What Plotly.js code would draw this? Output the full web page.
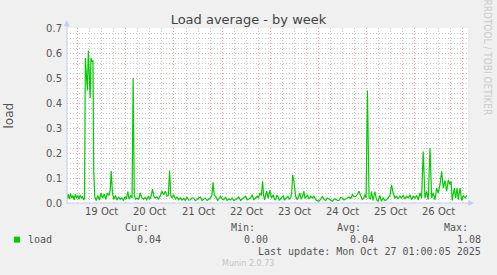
<!DOCTYPE html>
<html>
<head>
<meta charset="utf-8">
<script src="https://cdn.plot.ly/plotly-3.0.1.min.js"></script>
<style>html,body{margin:0;padding:0;background:#f0f0f0;}#chart{width:497px;height:275px;}</style>
</head>
<body>
<div id="chart"></div>
<script>
// Hours since 19 Oct 2025 00:00
const hours = [-5.3,-4.8,-4.2,-3.6,-3.0,-2.4,-1.8,-1.2,-0.6,0.0,0.6,1.2,1.8,2.4,3.0,3.4,3.8,4.3,4.8,5.3,5.8,6.2,6.6,7.1,7.6,8.0,8.5,9.2,10.0,10.8,11.6,12.4,13.2,14.0,14.8,15.6,16.2,16.7,17.3,18.0,18.8,19.6,20.4,21.2,22.0,22.8,23.6,24.2,25.0,25.6,26.4,27.1,27.65,28.2,28.9,29.6,30.4,31.2,32.0,32.8,33.6,34.4,35.2,36.0,36.7,37.3,38.0,38.7,39.5,40.3,41.2,42.0,42.8,43.7,44.5,45.2,45.8,46.4,47.0,47.8,48.7,49.5,50.3,51.2,52.0,52.8,53.6,54.5,55.3,56.2,57.0,57.8,58.6,59.5,60.3,61.2,62.0,62.8,63.6,64.5,65.3,66.2,66.9,67.5,68.1,68.7,69.8,70.5,71.2,72.0,72.8,73.7,74.5,75.3,76.2,77.0,77.8,78.7,79.5,80.3,81.2,82.0,82.8,83.7,84.5,85.3,86.2,87.0,87.8,88.7,89.5,90.2,90.8,91.6,92.2,92.7,93.2,94.2,95.0,95.8,96.7,97.5,98.1,98.7,99.3,99.8,100.5,101.2,101.9,102.5,103.1,103.7,104.3,104.8,105.5,106.2,106.7,107.2,107.8,108.3,108.7,109.5,110.1,110.8,111.4,112.0,112.8,113.3,113.7,114.5,115.3,116.2,117.0,117.8,118.7,119.5,120.3,121.2,122.0,122.8,123.7,124.5,125.3,126.2,127.0,127.8,128.7,129.5,130.3,131.2,132.0,132.8,133.7,134.5,135.3,136.2,137.0,137.8,138.7,139.5,140.3,141.2,142.0,142.6,143.2,143.8,144.5,145.3,146.0,146.5,147.3,148.2,149.0,149.8,150.7,151.5,152.3,153.2,154.0,154.8,155.7,156.5,157.3,158.2,159.0,159.8,160.7,161.5,162.3,163.2,164.0,164.8,165.7,166.5,167.3,168.2,169.0,169.8,170.7,171.5,172.3,173.2,174.0,174.8,175.7,176.5,177.3,178.2,179.0,179.8,180.7,181.5,182.3,183.2,184.0,184.8,185.7,186.2,186.8,187.8,188.5,189.2,189.8,190.7,191.5,192.3,193.2,194.0];
const load = [0.02,0.035,0.015,0.038,0.02,0.03,0.012,0.035,0.02,0.03,0.015,0.032,0.02,0.025,0.012,0.02,0.58,0.52,0.45,0.61,0.5,0.42,0.58,0.565,0.57,0.12,0.025,0.01,0.03,0.012,0.04,0.02,0.035,0.015,0.04,0.03,0.05,0.128,0.04,0.015,0.03,0.012,0.025,0.015,0.02,0.01,0.025,0.015,0.046,0.015,0.03,0.02,0.5,0.03,0.015,0.02,0.015,0.04,0.02,0.015,0.022,0.013,0.027,0.015,0.03,0.056,0.025,0.02,0.025,0.016,0.03,0.047,0.033,0.047,0.027,0.03,0.13,0.03,0.02,0.033,0.016,0.024,0.013,0.02,0.012,0.018,0.01,0.024,0.012,0.013,0.02,0.02,0.01,0.013,0.02,0.024,0.01,0.016,0.02,0.01,0.016,0.02,0.03,0.083,0.03,0.027,0.01,0.02,0.027,0.016,0.013,0.024,0.01,0.016,0.012,0.02,0.01,0.013,0.018,0.024,0.01,0.016,0.02,0.027,0.012,0.016,0.02,0.033,0.013,0.02,0.027,0.02,0.04,0.03,0.087,0.03,0.013,0.047,0.02,0.05,0.02,0.033,0.015,0.013,0.03,0.027,0.012,0.016,0.025,0.03,0.012,0.016,0.02,0.027,0.015,0.02,0.04,0.113,0.087,0.04,0.027,0.013,0.03,0.04,0.015,0.024,0.047,0.02,0.02,0.033,0.016,0.027,0.02,0.027,0.013,0.01,0.007,0.015,0.027,0.015,0.01,0.02,0.016,0.012,0.007,0.015,0.016,0.01,0.01,0.022,0.02,0.012,0.016,0.02,0.024,0.018,0.033,0.025,0.027,0.035,0.047,0.027,0.013,0.02,0.033,0.02,0.45,0.02,0.015,0.046,0.01,0.046,0.013,0.007,0.03,0.007,0.02,0.01,0.013,0.02,0.03,0.073,0.04,0.02,0.027,0.017,0.027,0.02,0.03,0.017,0.027,0.02,0.033,0.013,0.027,0.02,0.03,0.013,0.04,0.02,0.206,0.02,0.046,0.013,0.22,0.02,0.04,0.013,0.06,0.04,0.073,0.127,0.06,0.09,0.046,0.093,0.073,0.087,0.01,0.06,0.02,0.06,0.013,0.06,0.01,0.03,0.02,0.03];

const dayTickHours = [12,36,60,84,108,132,156,180];
const dayTickLabels = ['19 Oct','20 Oct','21 Oct','22 Oct','23 Oct','24 Oct','25 Oct','26 Oct'];

const legendHeads = ['Cur:','Min:','Avg:','Max:'];
const legendValues = ['0.04','0.00','0.04','1.08'];
const lastUpdate = 'Last update: Mon Oct 27 01:00:05 2025';

// pixel -> paper helpers (plot area: x 67..468, y 28..203.3)
const L = 67, R = 468, T = 28, B = 203.3;
const px = v => (v - L) / (R - L);
const py = v => (B - v) / (B - T);

const green = '#00cc00';
const axisCol = '#c4ccf4';
const txt = '#555555';
const sans = 'DejaVu Sans, sans-serif';
const mono = 'DejaVu Sans Mono, monospace';

const annotations = [];
dayTickHours.forEach((h, i) => annotations.push({
  x: h, xref: 'x', y: py(212), yref: 'paper', text: dayTickLabels[i], showarrow: false,
  xanchor: 'center', yanchor: 'middle', font: {family: sans, size: 10, color: txt}
}));
annotations.push({x: px(9), xref: 'paper', y: py(115.7), yref: 'paper', text: 'load', textangle: -90,
  showarrow: false, xanchor: 'center', yanchor: 'middle', font: {family: sans, size: 12, color: txt}});
annotations.push({x: px(487.5), xref: 'paper', y: py(57), yref: 'paper', text: 'RRDTOOL / TOBI OETIKER', textangle: 90,
  showarrow: false, xanchor: 'center', yanchor: 'middle', font: {family: 'Liberation Sans Narrow, DejaVu Sans Condensed, sans-serif', size: 10, color: '#cccccc'}});
const headRight = [150.5, 257, 363, 470.5];
const valRight = [163, 269.5, 376, 483];
legendHeads.forEach((t, i) => {
  annotations.push({x: px(headRight[i]), xref: 'paper', y: py(227.5), yref: 'paper', text: t, showarrow: false,
    xanchor: 'right', yanchor: 'middle', font: {family: mono, size: 10, color: txt}});
  annotations.push({x: px(valRight[i]), xref: 'paper', y: py(239.5), yref: 'paper', text: legendValues[i], showarrow: false,
    xanchor: 'right', yanchor: 'middle', font: {family: mono, size: 10, color: txt}});
});
annotations.push({x: px(26), xref: 'paper', y: py(239.5), yref: 'paper', text: 'load', showarrow: false,
  xanchor: 'left', yanchor: 'middle', font: {family: mono, size: 10, color: txt}});
annotations.push({x: px(483), xref: 'paper', y: py(252), yref: 'paper', text: lastUpdate, showarrow: false,
  xanchor: 'right', yanchor: 'middle', font: {family: mono, size: 10, color: txt}});
annotations.push({x: px(248), xref: 'paper', y: py(264), yref: 'paper', text: 'Munin 2.0.73', showarrow: false,
  xanchor: 'center', yanchor: 'middle', font: {family: sans, size: 8, color: '#c4c4c4'}});

const shapes = [
  {type: 'line', xref: 'paper', yref: 'paper', x0: px(66.5), x1: px(469), y0: 0, y1: 0, line: {color: axisCol, width: 1}, layer: 'above'},
  {type: 'line', xref: 'paper', yref: 'paper', x0: 0, x1: 0, y0: py(204), y1: py(25), line: {color: axisCol, width: 1}, layer: 'above'},
  {type: 'path', xref: 'paper', yref: 'paper', layer: 'above', fillcolor: axisCol, line: {color: axisCol, width: 0.5},
    path: `M ${px(64.2)} ${py(26)} L ${px(69.2)} ${py(26)} L ${px(66.7)} ${py(20.5)} Z`},
  {type: 'path', xref: 'paper', yref: 'paper', layer: 'above', fillcolor: axisCol, line: {color: axisCol, width: 0.5},
    path: `M ${px(468.5)} ${py(200.8)} L ${px(468.5)} ${py(205.8)} L ${px(473.5)} ${py(203.3)} Z`},
  {type: 'rect', xref: 'paper', yref: 'paper', x0: px(14), x1: px(20), y0: py(243), y1: py(237),
    fillcolor: green, line: {width: 0}}
];

const trace = {
  x: hours, y: load, type: 'scatter', mode: 'lines',
  line: {color: green, width: 1.2}, hoverinfo: 'skip'
};

const layout = {
  width: 497, height: 275,
  margin: {l: 67, r: 29, t: 28, b: 71.7, pad: 0},
  paper_bgcolor: '#f0f0f0', plot_bgcolor: '#ffffff',
  showlegend: false,
  title: {text: 'Load average - by week', xref: 'container', x: 0.5, xanchor: 'center',
    yref: 'container', y: 1 - 19 / 275, yanchor: 'middle', font: {family: sans, size: 13, color: '#444444'}},
  xaxis: {
    range: [-5.35, 194.65], tickmode: 'linear', tick0: 0, dtick: 24,
    showticklabels: false, ticks: '', showline: false, zeroline: false,
    showgrid: true, gridcolor: '#eaa8a8', gridwidth: 1, griddash: '1px,2px',
    minor: {tickmode: 'linear', tick0: 0, dtick: 6, showgrid: true, gridcolor: '#cacaca', gridwidth: 1, griddash: '1px,2px', ticks: ''},
    fixedrange: true
  },
  yaxis: {
    range: [0, 0.7], tickmode: 'linear', tick0: 0, dtick: 0.1, tickformat: '.1f',
    tickfont: {family: sans, size: 10, color: txt}, ticks: '', ticklabelstandoff: 4,
    showline: false, zeroline: false,
    showgrid: true, gridcolor: '#eaa8a8', gridwidth: 1, griddash: '1px,2px',
    minor: {tickmode: 'linear', tick0: 0, dtick: 0.02, showgrid: true, gridcolor: '#cacaca', gridwidth: 1, griddash: '1px,2px', ticks: ''},
    fixedrange: true
  },
  annotations: annotations,
  shapes: shapes
};

Plotly.newPlot('chart', [trace], layout, {staticPlot: true, displayModeBar: false});
</script>
</body>
</html>
